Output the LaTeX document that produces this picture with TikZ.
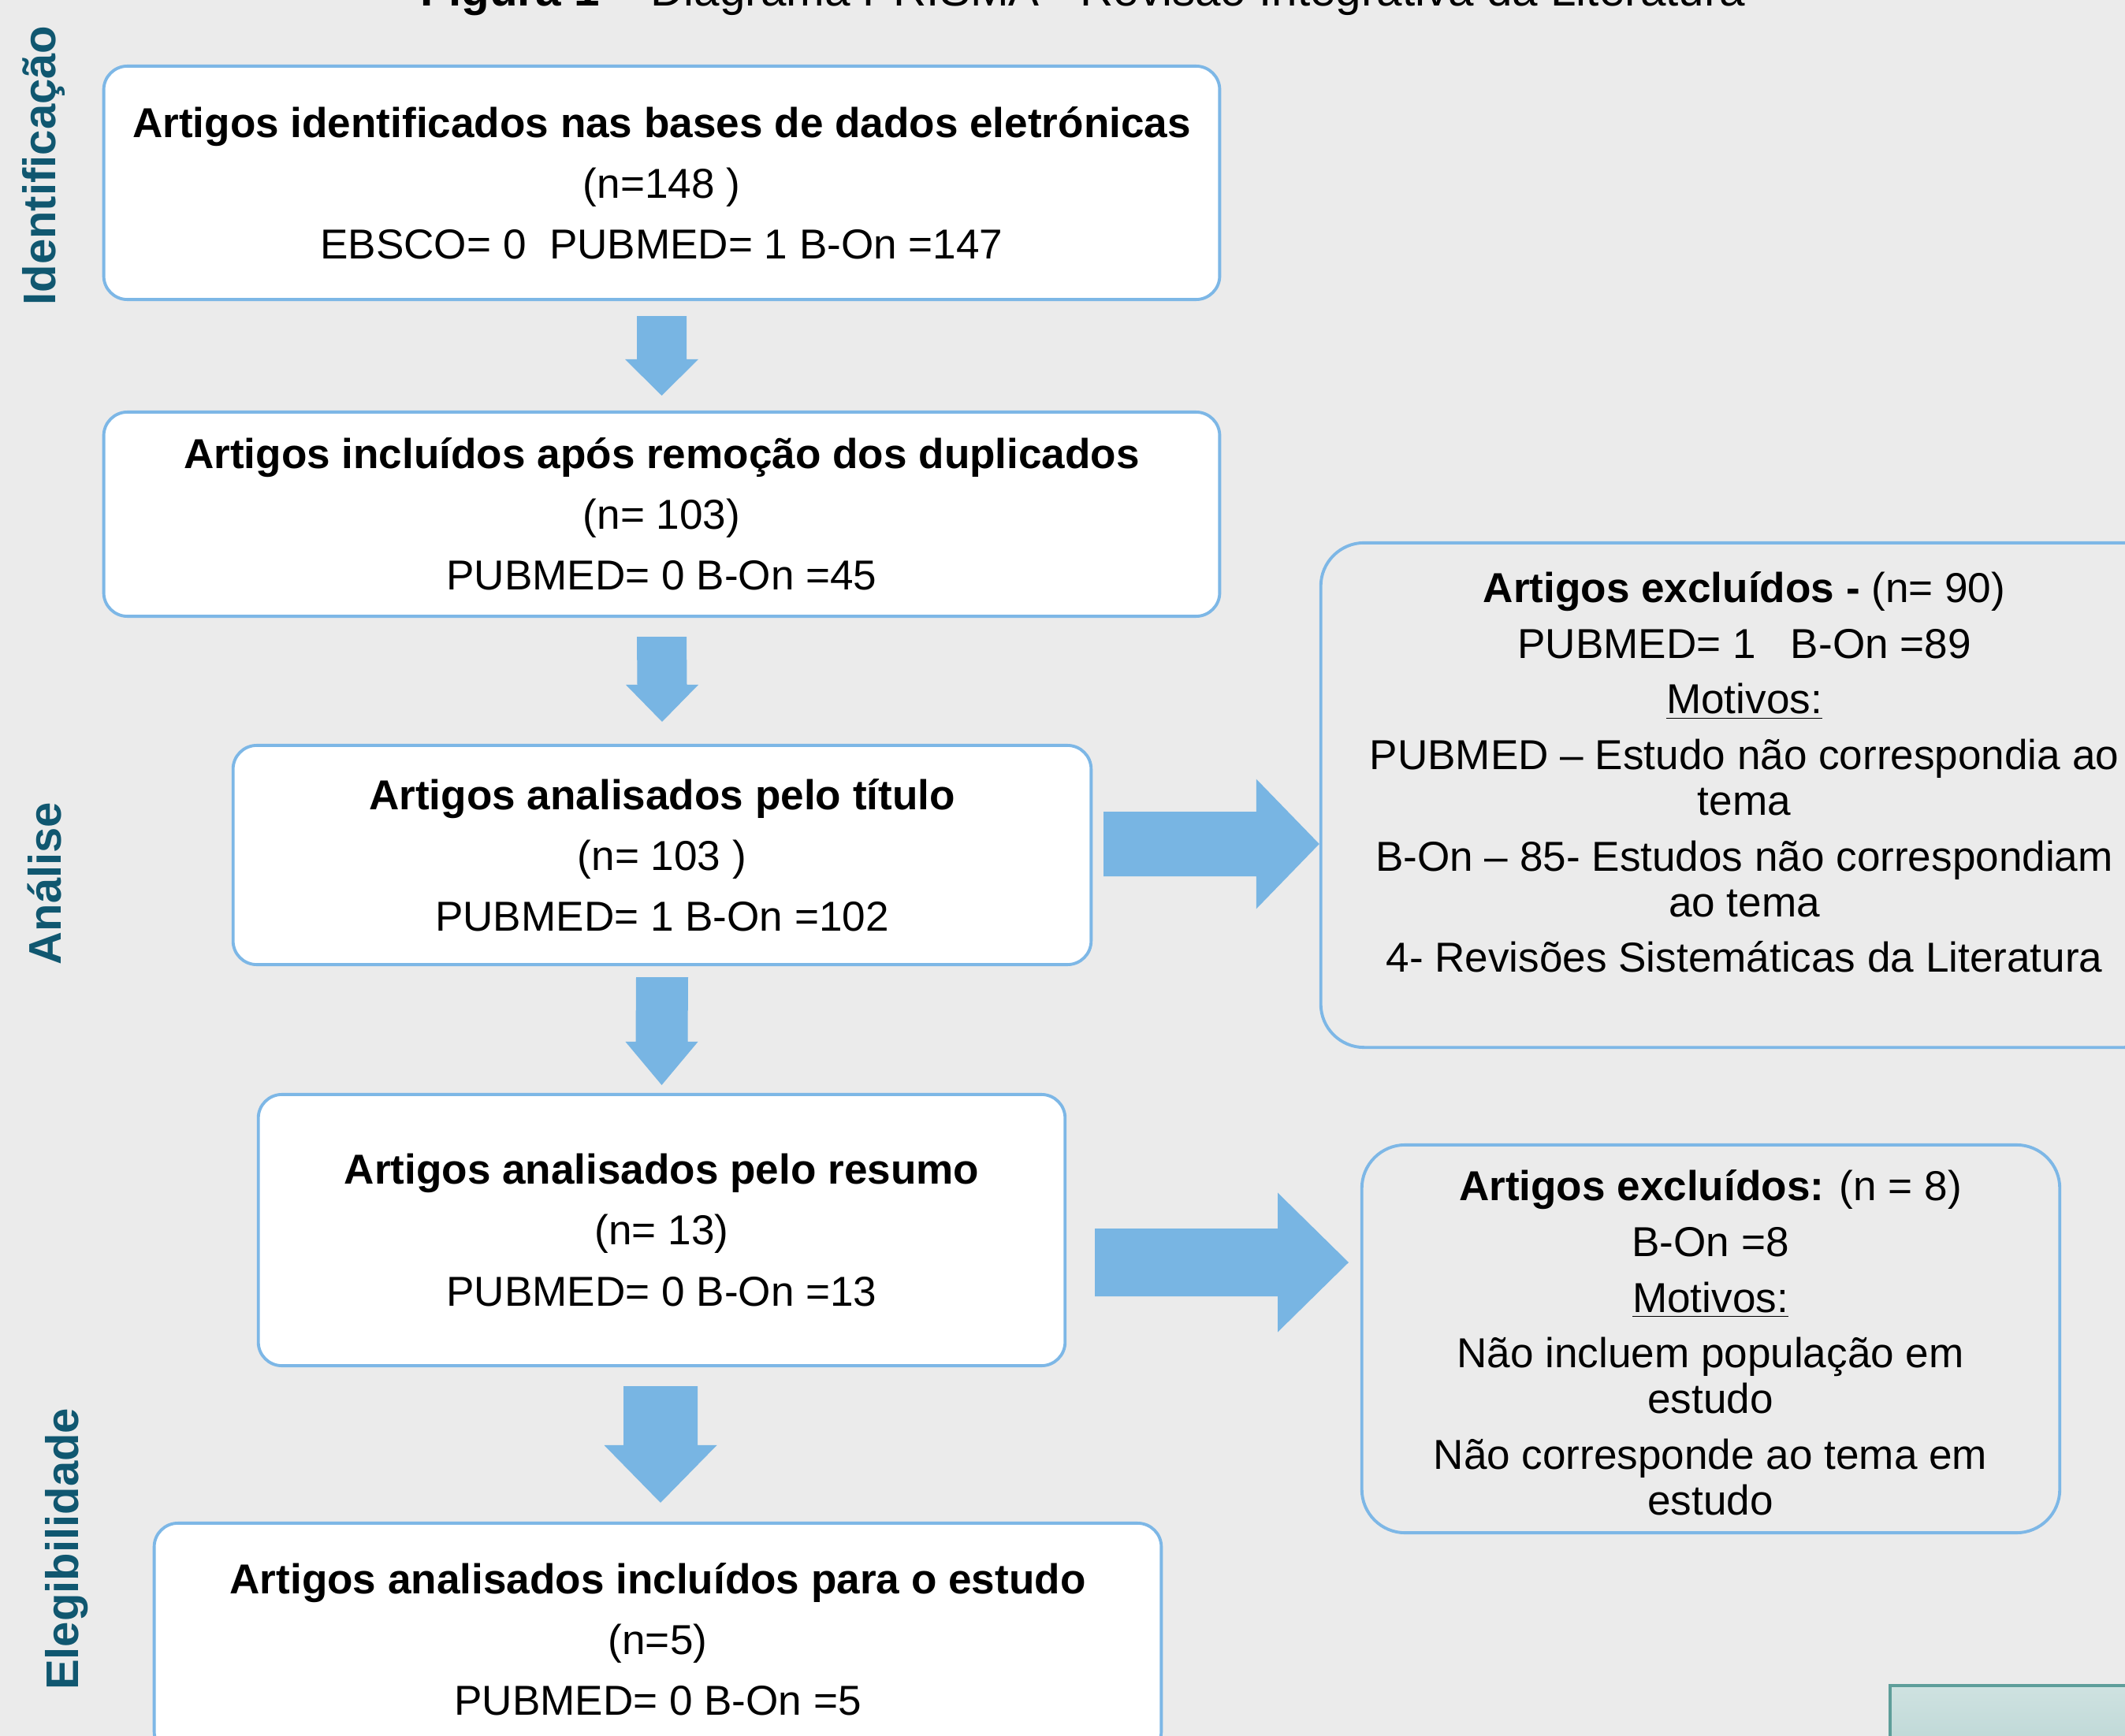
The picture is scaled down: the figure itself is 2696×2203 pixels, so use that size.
\documentclass[tikz,border=0pt]{standalone}
\usepackage{fontspec}
\setmainfont{Liberation Sans}
\usetikzlibrary{calc,positioning}

\definecolor{bgback}{HTML}{EBEBEB}
\definecolor{boxline}{HTML}{7DB7E6}
\definecolor{blkfill}{HTML}{78B5E3}
\definecolor{phasecol}{RGB}{16,87,112}
\definecolor{tealline}{HTML}{5E9E9A}

% block arrows: tail, tip, shaft half width, head half width, head length
\newcommand{\downblk}[5]{%
  \fill[blkfill] ($(#1)+(-#3,0)$) -- ($(#1)+(#3,0)$) -- ($(#2)+(#3,-#5)$)
    -- ($(#2)+(#4,-#5)$) -- (#2) -- ($(#2)+(-#4,-#5)$) -- ($(#2)+(-#3,-#5)$) -- cycle;}
\newcommand{\rightblk}[5]{%
  \fill[blkfill] ($(#1)+(0,-#3)$) -- ($(#2)+(-#5,-#3)$) -- ($(#2)+(-#5,-#4)$)
    -- (#2) -- ($(#2)+(-#5,#4)$) -- ($(#2)+(-#5,#3)$) -- ($(#1)+(0,#3)$) -- cycle;}

\begin{document}
\begin{tikzpicture}[x=0.01cm,y=-0.01cm,
  stagebox/.style={draw=boxline,line width=1.1pt,fill=white,rounded corners=0.3cm,
    align=center,inner sep=0pt,font=\fontsize{15.1pt}{21.9pt}\selectfont},
  exclbox/.style={draw=boxline,line width=1.1pt,rounded corners=0.55cm,inner sep=0pt},
  excltxt/.style={align=center,inner sep=0pt,font=\fontsize{15.1pt}{16.5pt}\selectfont},
  phaselbl/.style={rotate=90,text=phasecol,font=\fontsize{16.5pt}{18pt}\selectfont\bfseries}]
  % Page
  \useasboundingbox (0,0) rectangle (2696,2203);
  \clip (0,0) rectangle (2696,2203);
  \fill[bgback] (0,0) rectangle (2696,2203);

  % Title (cut by the page edge)
  \node[anchor=base,inner sep=0pt,font=\fontsize{16.6pt}{18pt}\selectfont] (title) at (1374,8)
    {\textbf{Figura 1} – Diagrama PRISMA - Revisão Integrativa da Literatura};

  % Phases
  \node[phaselbl] (lblid) at (55,210) {Identificação};
  \node[phaselbl] (lblan) at (57,1121) {Análise};
  \node[phaselbl] (lblel) at (85,1966) {Elegibilidade};

  % Main column
  \node[stagebox,minimum width=14.15cm,minimum height=2.96cm] (ident) at (839.5,232)
    {\textbf{Artigos identificados nas bases de dados eletrónicas}\\(n=148 )\\EBSCO= 0\ \ PUBMED= 1 B-On =147};
  \node[stagebox,minimum width=14.15cm,minimum height=2.59cm] (dup) at (839.5,652.5)
    {\textbf{Artigos incluídos após remoção dos duplicados}\\(n= 103)\\PUBMED= 0 B-On =45};
  \node[stagebox,minimum width=10.88cm,minimum height=2.78cm] (titulo) at (840,1085)
    {\textbf{Artigos analisados pelo título}\\(n= 103 )\\PUBMED= 1 B-On =102};
  \node[stagebox,minimum width=10.23cm,minimum height=3.44cm] (resumo) at (839.5,1561)
    {\textbf{Artigos analisados pelo resumo}\\(n= 13)\\PUBMED= 0 B-On =13};
  \node[stagebox,minimum width=12.77cm,minimum height=2.94cm] (incl) at (834.5,2080)
    {\textbf{Artigos analisados incluídos para o estudo}\\(n=5)\\PUBMED= 0 B-On =5};

  % Exclusions
  \node[exclbox,minimum width=10.74cm,minimum height=6.40cm] (excl1) at (2213,1009) {};
  \node[excltxt] (excl1txt) at (2213,980)
    {\textbf{Artigos excluídos -} (n= 90)\\[3.6pt]
     PUBMED= 1\ \ \ B-On =89\\[3.6pt]
     \underline{Motivos:}\\[3.6pt]
     PUBMED – Estudo não correspondia ao\\tema\\[3.6pt]
     B-On – 85- Estudos não correspondiam\\ao tema\\[3.6pt]
     4- Revisões Sistemáticas da Literatura};
  \node[exclbox,minimum width=8.85cm,minimum height=4.92cm] (excl2) at (2170.5,1699) {};
  \node[excltxt] (excl2txt) at (2170,1704)
    {\textbf{Artigos excluídos:} (n = 8)\\[3.6pt]
     B-On =8\\[3.6pt]
     \underline{Motivos:}\\[3.6pt]
     Não incluem população em\\estudo\\[3.6pt]
     Não corresponde ao tema em\\estudo};

  % Corner panel
  \draw[tealline,line width=1.1pt,top color=tealline!30!white,bottom color=tealline!42!white]
    (2398,2139) rectangle (2720,2230);

  % Arrows down
  \coordinate (d1a) at ($(ident.south)+(0,19)$);
  \coordinate (d1b) at ($(dup.north)+(0,-19)$);
  \coordinate (d2a) at ($(dup.south)+(0,24)$);
  \coordinate (d2b) at ($(titulo.north)+(0,-28)$);
  \coordinate (d3a) at ($(titulo.south)+(0,14)$);
  \coordinate (d3b) at ($(resumo.north)+(0,-10)$);
  \coordinate (d4a) at ($(resumo.south)+(-1.5,24)$);
  \coordinate (d4b) at ($(incl.north)+(3.5,-24)$);
  \downblk{d1a}{d1b}{31.5}{46.5}{46}
  \downblk{d2a}{d2b}{31.5}{46}{47}
  \downblk{d3a}{d3b}{33}{46}{55}
  \downblk{d4a}{d4b}{47}{71.5}{73}

  % Arrows right
  \coordinate (r1a) at (1400,1071);
  \coordinate (r1b) at (excl1.west |- r1a);
  \coordinate (r2a) at (1389,1602);
  \coordinate (r2b) at (1711,1602);
  \rightblk{r1a}{r1b}{41}{82.5}{80}
  \rightblk{r2a}{r2b}{43}{88.5}{90}
\end{tikzpicture}
\end{document}
